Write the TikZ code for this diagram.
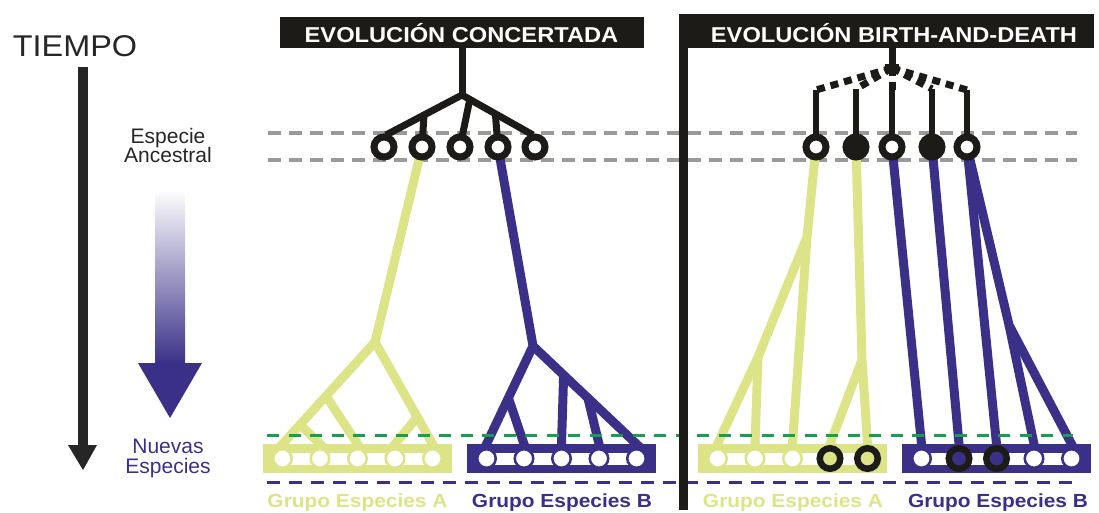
\documentclass[tikz,border=0pt]{standalone}
\usepackage{fontspec}
\setmainfont{Liberation Sans}
\usetikzlibrary{calc}

\definecolor{ink}{HTML}{1C1B18}
\definecolor{lime}{HTML}{DDE487}
\definecolor{indigo}{HTML}{3A3088}
\definecolor{guidegray}{HTML}{9A9A9A}
\definecolor{grn}{HTML}{14A04E}
\definecolor{txtgray}{HTML}{262626}

\begin{document}
\begin{tikzpicture}[x=1pt,y=-1pt,
  blk/.style={draw=ink, line width=7pt},
  blkdots/.style={draw=ink, line width=7pt, dash pattern=on 8pt off 6pt},
  limeln/.style={draw=lime, line width=9pt},
  indln/.style={draw=indigo, line width=9pt},
  leaf/.style={shorten >=-6pt},
  guide/.style={draw=guidegray, line width=3.2pt, dash pattern=on 13pt off 8pt},
  ancopen/.style={circle, draw=ink, line width=7pt, fill=white, minimum size=20pt, inner sep=0pt},
  ancfull/.style={circle, draw=ink, line width=7pt, fill=ink, minimum size=20pt, inner sep=0pt},
  grpbox/.style={rectangle, fill=#1, minimum width=189pt, minimum height=29pt, inner sep=0pt},
  slot/.style={circle, fill=white, draw=#1, line width=2.5pt, minimum size=18.5pt, inner sep=0pt},
  ring/.style={circle, fill=#1, draw=ink, line width=6.5pt, minimum size=20.5pt, inner sep=0pt},
  titlebar/.style={rectangle, fill=ink, inner sep=0pt},
  titletext/.style={text=white, font=\bfseries\fontsize{21.5}{24}\selectfont, inner sep=0pt, anchor=base},
  grplabel/.style={text=#1, font=\bfseries\fontsize{19}{22}\selectfont, inner sep=0pt, anchor=base},
  sidelabel/.style={text=#1, font=\fontsize{21}{24}\selectfont, inner sep=0pt, anchor=base},
]
\useasboundingbox (0,0) rectangle (1099,513);

% time reference lines for the ancestral species
\draw[guide] (268,133) -- (1077,133);
\draw[guide] (268,160) -- (1077,160);

% ancestral positions
\foreach \n/\x in {1/384,2/422,3/460,4/498,5/535} \coordinate (c\n) at (\x,147);
\foreach \n/\x in {1/816,2/856,3/892,4/932,5/967} \coordinate (d\n) at (\x,147);

% leaf tips at the top edge of each group box
\foreach \n/\x in {1/282.5,2/320,3/357.5,4/395,5/432.5} \coordinate (a\n) at (\x,444);
\foreach \n/\x in {1/486.5,2/524,3/561.5,4/599,5/636.5} \coordinate (b\n) at (\x,444);
\foreach \n/\x in {1/717.5,2/755,3/792.5,4/830,5/867.5} \coordinate (p\n) at (\x,444);
\foreach \n/\x in {1/921.5,2/959,3/996.5,4/1034,5/1071.5} \coordinate (q\n) at (\x,444);

% ---- concerted evolution: ancestral gene tree
\coordinate (cTop) at (462,48);
\coordinate (cFork) at (462,95);
\coordinate (c1t) at (386,135);
\coordinate (c5t) at (533,135);
\draw[blk] (cTop) -- (cFork);
\draw[blk, line join=miter] (c1t) -- (cFork) -- (c5t);
\draw[blk] ($(cFork)!0.5!(c1t)$) -- (c2);
\draw[blk] ($(cFork)!0.11!(c5t)$) -- (c3);
\draw[blk] ($(cFork)!0.47!(c5t)$) -- (c4);

% ---- birth-and-death: ancestral gene tree
\coordinate (bTop) at (892,48);
\coordinate (bFork) at (892,68);
\foreach \n/\y in {1/90,2/89,3/90,4/89,5/90} \coordinate (d\n t) at (d\n |- 0,\y);
\draw[blk] (bTop) -- (bFork);
\draw[blk] (885,68) -- (899,68);
\foreach \n in {1,2,3,4,5} {
  \draw[blkdots] (bFork) -- (d\n t);
  \draw[blk, line width=6pt] (d\n t) -- (d\n);
}

% ---- concerted evolution: descendant trees
\coordinate (F1) at (375,342);
\draw[limeln, leaf] (c2) -- (F1) -- (a1);
\draw[limeln, leaf] (F1) -- (a5);
\draw[limeln, leaf] ($(F1)!0.53!(a1)$) -- (a3);
\draw[limeln, leaf] ($(F1)!0.81!(a1)$) -- (a2);
\draw[limeln, leaf] ($(F1)!0.735!(a5)$) -- (a4);

\coordinate (F2) at (533,346);
\draw[indln, leaf] (c4) -- (F2) -- (b1);
\draw[indln, leaf] (F2) -- (b5);
\draw[indln, leaf] ($(F2)!0.53!(b1)$) -- (b2);
\draw[indln, leaf] ($(F2)!0.296!(b5)$) -- (b3);
\draw[indln, leaf] ($(F2)!0.53!(b5)$) -- (b4);

% ---- birth-and-death: descendant lineages
\coordinate (J1) at (807,237);
\coordinate (J2) at (758,357);
\coordinate (J3) at (862,360);
\coordinate (J4) at (1009,325);
\draw[limeln, leaf] (d1) -- (J1) -- (p3);
\draw[limeln, leaf] (J1) -- (J2) -- (p1);
\draw[limeln, leaf] (J2) -- (p2);
\draw[limeln, leaf] (d2) -- (J3) -- (p5);
\draw[limeln, leaf] (J3) -- (p4);

\draw[indln, leaf] (d3) -- (q1);
\draw[indln, leaf] (d4) -- (q2);
\draw[indln, leaf] (d5) -- (q3);
\draw[indln, leaf] (d5) -- (J4) -- (q5);
\draw[indln, leaf] (J4) -- (q4);

% ancestral species (genes)
\foreach \n in {1,...,5} \node[ancopen] (cn\n) at (c\n) {};
\node[ancopen] (dn1) at (d1) {};
\node[ancfull] (dn2) at (d2) {};
\node[ancopen] (dn3) at (d3) {};
\node[ancfull] (dn4) at (d4) {};
\node[ancopen] (dn5) at (d5) {};

% ---- group boxes with their gene slots
\node[grpbox=lime]   (boxLA) at (357.5,458.5) {};
\node[grpbox=indigo] (boxLB) at (561.5,458.5) {};
\node[grpbox=lime]   (boxRA) at (792.5,458.5) {};
\node[grpbox=indigo] (boxRB) at (996.5,458.5) {};

\foreach \g/\col in {a/lime,b/indigo,p/lime,q/indigo} {
  \fill[white] ($(\g1)+(0,8.5)$) rectangle ($(\g5)+(0,20.5)$);
  \foreach \n in {1,...,5} \node[slot=\col] (s\g\n) at ($(\g\n)+(0,14.5)$) {};
}
\node[ring=lime]   (rp4) at ($(p4)+(0,14.5)$) {};
\node[ring=lime]   (rp5) at ($(p5)+(0,14.5)$) {};
\node[ring=indigo] (rq2) at ($(q2)+(0,14.5)$) {};
\node[ring=indigo] (rq3) at ($(q3)+(0,14.5)$) {};

% present-day reference lines
\draw[draw=grn, line width=3pt, dash pattern=on 12pt off 9.5pt] (267,435) -- (1073,435);
\draw[draw=indigo, line width=3pt, dash pattern=on 13pt off 9pt] (267,482) -- (1077,482);

% ---- panel frames and titles
\fill[ink] (679,14) rectangle (688,510);
\node[titlebar, minimum width=364pt, minimum height=31pt] (ctitle) at (462,32.5) {};
\node[titletext] (ctext) at (461.5,43) {\scalebox{1.1}[1]{EVOLUCIÓN CONCERTADA}};
\node[titlebar, minimum width=415pt, minimum height=34pt] (btitle) at (886.5,31) {};
\node[titletext] (btext) at (894,43) {\scalebox{1.1}[1]{EVOLUCIÓN BIRTH-AND-DEATH}};

% group labels
\node[grplabel=lime]   (gLA) at (357.5,507) {\scalebox{1.1}[1]{Grupo Especies A}};
\node[grplabel=indigo] (gLB) at (562,507)   {\scalebox{1.1}[1]{Grupo Especies B}};
\node[grplabel=lime]   (gRA) at (793,507)   {\scalebox{1.1}[1]{Grupo Especies A}};
\node[grplabel=indigo] (gRB) at (998,507)   {\scalebox{1.1}[1]{Grupo Especies B}};

% ---- time axis
\node[sidelabel=txtgray, font=\fontsize{30}{34}\selectfont] (tiempo) at (75,57) {\scalebox{1.08}[1]{TIEMPO}};
\fill[txtgray] (78,67) rectangle (88,446);
\fill[txtgray] (68,445) -- (97,445) -- (83,470) -- cycle;

\node[sidelabel=txtgray] (esp1) at (168,144) {Especie};
\node[sidelabel=txtgray] (esp2) at (168,163) {Ancestral};
\node[sidelabel=indigo]  (nue1) at (168,453) {Nuevas};
\node[sidelabel=indigo]  (nue2) at (168,473) {Especies};

\shade[top color=white, bottom color=indigo] (155,190) rectangle (185,364);
\fill[indigo] (138,363) -- (202,363) -- (170,418) -- cycle;
\end{tikzpicture}
\end{document}
